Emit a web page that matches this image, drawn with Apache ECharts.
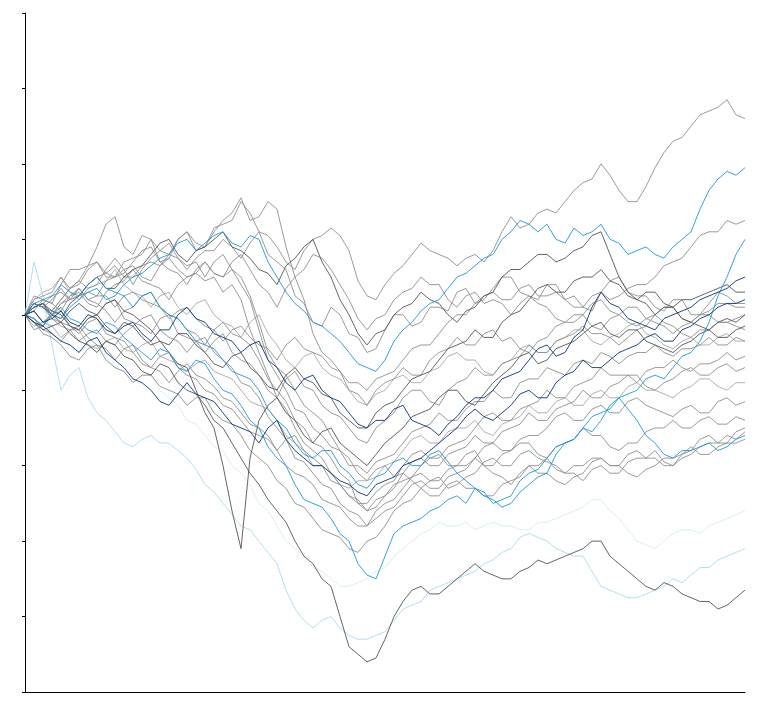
<!DOCTYPE html>
<html>
<head>
<meta charset="utf-8">
<script src="https://cdn.jsdelivr.net/npm/echarts@6/dist/echarts.min.js"></script>
<style>
  html, body { margin: 0; padding: 0; background: #fff; }
  #chart { width: 771px; height: 713px; }
</style>
</head>
<body>
<div id="chart"></div>
<script>
// x positions (sample index along the period)
var steps = [];
for (var k = 0; k <= 80; k++) steps.push(k);

var yTicks = ['0.0', '0.2', '0.4', '0.6', '0.8', '1.0', '1.2', '1.4', '1.6', '1.8'];

// grey paths
var g1 = [1.00,1.05,1.04,1.03,1.08,1.12,1.12,1.13,1.18,1.24,1.26,1.18,1.16,1.21,1.20,1.14,1.15,1.20,1.22,1.17,1.18,1.23,1.24,1.25,1.30,1.27,1.22,1.16,1.14,1.12,1.05,1.03,0.98,0.97,1.02,1.00,0.95,0.94,0.90,0.91,0.96,1.00,1.00,0.97,0.98,1.02,1.02,1.01,1.06,1.07,1.03,1.04,1.07,1.10,1.10,1.06,1.05,1.04,1.08,1.08,1.04,1.05,1.02,1.01,1.06,1.09,1.10,1.06,1.05,1.05,1.02,1.01,1.04,1.04,1.00,1.00,1.03,1.06,1.05,1.03,1.03];
var g3 = [1.00,0.96,0.97,1.00,1.01,0.97,0.96,0.99,1.00,1.03,1.04,0.99,0.98,0.97,0.95,0.99,1.00,0.95,0.94,0.93,0.90,0.93,0.95,0.90,0.88,0.87,0.84,0.80,0.78,0.83,0.85,0.81,0.80,0.76,0.74,0.73,0.70,0.67,0.66,0.70,0.72,0.74,0.78,0.80,0.80,0.77,0.76,0.80,0.82,0.83,0.86,0.84,0.84,0.87,0.88,0.89,0.92,0.90,0.90,0.93,0.94,0.95,0.97,0.95,0.95,0.94,0.92,0.94,0.96,0.97,1.00,0.98,0.97,0.95,0.94,0.96,0.96,0.98,0.98,0.97,0.96];
var g4 = [1.00,1.03,1.02,1.04,1.07,1.04,1.05,1.06,1.05,1.09,1.10,1.11,1.14,1.17,1.18,1.14,1.12,1.11,1.08,1.12,1.14,1.11,1.10,1.12,1.08,1.04,0.96,0.88,0.84,0.80,0.75,0.74,0.70,0.68,0.65,0.64,0.60,0.60,0.58,0.61,0.62,0.63,0.66,0.69,0.70,0.71,0.74,0.72,0.72,0.75,0.77,0.77,0.80,0.78,0.78,0.82,0.83,0.83,0.86,0.85,0.84,0.87,0.88,0.87,0.90,0.89,0.87,0.89,0.90,0.90,0.92,0.90,0.89,0.91,0.91,0.92,0.94,0.92,0.92,0.94,0.93];
var g5 = [1.00,0.99,0.96,0.95,0.93,0.96,0.97,0.94,0.92,0.91,0.88,0.91,0.92,0.88,0.86,0.85,0.82,0.85,0.87,0.84,0.83,0.81,0.78,0.77,0.74,0.71,0.70,0.68,0.64,0.67,0.68,0.64,0.62,0.60,0.56,0.55,0.52,0.50,0.50,0.53,0.55,0.56,0.60,0.63,0.64,0.62,0.62,0.65,0.66,0.67,0.70,0.73,0.74,0.72,0.72,0.75,0.76,0.77,0.80,0.78,0.78,0.81,0.82,0.83,0.86,0.84,0.84,0.84,0.82,0.85,0.86,0.86,0.88,0.86,0.85,0.87,0.87,0.88,0.90,0.88,0.89];
var g6 = [1.00,1.01,1.04,1.03,1.01,1.05,1.07,1.04,1.03,1.01,0.98,1.01,1.02,1.05,1.06,1.02,1.00,0.99,0.96,0.95,0.92,0.96,0.98,0.95,0.94,0.92,0.88,0.83,0.80,0.77,0.72,0.70,0.66,0.65,0.62,0.58,0.56,0.50,0.48,0.51,0.52,0.54,0.58,0.61,0.62,0.60,0.60,0.63,0.64,0.65,0.68,0.66,0.66,0.69,0.70,0.71,0.74,0.72,0.72,0.75,0.76,0.77,0.80,0.78,0.78,0.81,0.82,0.84,0.84,0.81,0.80,0.82,0.83,0.85,0.86,0.84,0.84,0.86,0.87,0.85,0.86];
var g7 = [1.00,0.97,0.98,0.97,0.94,0.96,0.96,0.92,0.91,0.93,0.94,0.91,0.90,0.92,0.93,0.89,0.88,0.87,0.85,0.87,0.88,0.85,0.84,0.83,0.80,0.77,0.76,0.75,0.72,0.68,0.66,0.64,0.60,0.60,0.58,0.55,0.54,0.56,0.56,0.57,0.60,0.61,0.64,0.67,0.68,0.66,0.66,0.69,0.70,0.70,0.72,0.69,0.68,0.71,0.72,0.73,0.76,0.74,0.74,0.77,0.78,0.76,0.76,0.79,0.80,0.78,0.78,0.81,0.82,0.80,0.80,0.79,0.78,0.80,0.81,0.83,0.83,0.81,0.80,0.82,0.82];
var g8 = [1.00,1.02,1.03,0.99,0.98,0.97,0.95,0.98,0.99,0.95,0.94,0.93,0.90,0.87,0.86,0.89,0.90,0.86,0.84,0.83,0.80,0.79,0.76,0.75,0.72,0.69,0.68,0.67,0.64,0.60,0.58,0.57,0.55,0.51,0.50,0.49,0.46,0.44,0.44,0.46,0.48,0.49,0.52,0.55,0.56,0.54,0.54,0.57,0.58,0.59,0.62,0.60,0.60,0.63,0.64,0.66,0.66,0.63,0.62,0.65,0.66,0.67,0.70,0.68,0.68,0.65,0.64,0.66,0.66,0.69,0.70,0.70,0.72,0.70,0.70,0.72,0.73,0.71,0.71,0.73,0.72];
var g9 = [1.00,0.99,0.97,1.01,1.04,1.07,1.09,1.07,1.08,1.12,1.15,1.12,1.13,1.10,1.09,1.13,1.15,1.12,1.10,1.11,1.09,1.10,1.06,1.08,1.04,0.96,0.90,0.84,0.78,0.75,0.70,0.66,0.64,0.62,0.58,0.55,0.52,0.51,0.48,0.49,0.52,0.55,0.56,0.57,0.60,0.62,0.63,0.60,0.60,0.63,0.64,0.60,0.58,0.57,0.55,0.58,0.60,0.60,0.62,0.59,0.58,0.58,0.56,0.59,0.60,0.58,0.58,0.61,0.62,0.62,0.64,0.61,0.60,0.63,0.64,0.67,0.68,0.66,0.66,0.69,0.70];
var g10 = [1.00,1.03,1.02,1.01,1.04,1.07,1.09,1.13,1.14,1.10,1.10,1.12,1.08,1.12,1.15,1.17,1.19,1.15,1.13,1.14,1.10,1.14,1.16,1.12,1.10,1.05,0.98,0.90,0.86,0.84,0.80,0.76,0.74,0.72,0.68,0.64,0.62,0.58,0.56,0.59,0.60,0.57,0.58,0.56,0.54,0.56,0.57,0.54,0.55,0.57,0.58,0.61,0.62,0.60,0.60,0.63,0.64,0.62,0.61,0.60,0.58,0.60,0.60,0.62,0.62,0.60,0.60,0.58,0.57,0.59,0.60,0.62,0.62,0.63,0.65,0.63,0.63,0.65,0.66,0.66,0.67];
var g11 = [1.00,1.04,1.05,1.06,1.10,1.07,1.08,1.12,1.14,1.11,1.10,1.14,1.15,1.16,1.20,1.17,1.16,1.20,1.22,1.19,1.18,1.22,1.25,1.27,1.31,1.25,1.26,1.30,1.28,1.18,1.10,1.04,0.95,0.90,0.88,0.85,0.80,0.79,0.76,0.80,0.82,0.83,0.86,0.84,0.84,0.88,0.90,0.91,0.94,0.92,0.92,0.95,0.96,0.93,0.94,0.91,0.90,0.93,0.94,0.97,0.98,0.98,1.00,0.97,0.96,0.99,1.00,1.02,1.02,0.99,0.98,0.97,0.95,0.97,0.98,1.00,1.00,0.98,0.98,0.99,1.00];
var g12 = [1.00,1.01,0.98,1.00,1.03,1.05,1.06,1.03,1.02,1.06,1.08,1.09,1.12,1.09,1.08,1.07,1.04,1.08,1.10,1.11,1.14,1.11,1.10,1.14,1.16,1.12,1.08,1.06,1.02,1.07,1.10,1.12,1.16,1.15,1.12,1.08,1.04,0.99,0.96,0.99,1.00,1.04,1.06,1.07,1.10,1.08,1.08,1.04,1.02,1.05,1.06,1.03,1.04,1.03,1.00,1.03,1.05,1.03,1.02,0.99,0.98,1.00,1.00,1.03,1.04,1.01,1.00,0.98,0.97,0.99,1.00,1.02,1.02,0.99,0.98,1.00,1.01,1.03,1.03,1.02,1.02];
var g13 = [1.00,0.98,0.95,0.94,0.92,0.89,0.88,0.91,0.92,0.88,0.86,0.85,0.82,0.84,0.84,0.81,0.80,0.79,0.76,0.78,0.78,0.74,0.72,0.71,0.68,0.64,0.62,0.60,0.56,0.54,0.50,0.49,0.46,0.43,0.42,0.41,0.38,0.37,0.40,0.41,0.44,0.48,0.50,0.51,0.54,0.52,0.52,0.55,0.56,0.54,0.54,0.52,0.52,0.55,0.56,0.57,0.60,0.58,0.58,0.56,0.55,0.57,0.58,0.61,0.62,0.60,0.60,0.63,0.64,0.62,0.62,0.60,0.60,0.62,0.63,0.65,0.66,0.66,0.68,0.67,0.69];
var g14 = [1.00,1.03,1.02,0.99,0.97,0.96,0.93,0.95,0.96,0.93,0.92,0.95,0.97,0.99,1.00,0.96,0.94,0.93,0.90,0.93,0.94,0.90,0.88,0.86,0.82,0.81,0.78,0.73,0.70,0.67,0.62,0.61,0.58,0.55,0.54,0.50,0.48,0.47,0.44,0.48,0.50,0.51,0.54,0.57,0.58,0.56,0.56,0.59,0.60,0.60,0.62,0.65,0.66,0.64,0.64,0.67,0.68,0.68,0.70,0.73,0.74,0.72,0.72,0.75,0.76,0.74,0.74,0.77,0.78,0.76,0.75,0.74,0.73,0.75,0.76,0.74,0.74,0.77,0.78,0.76,0.77];
var g16 = [1.00,1.04,1.06,1.07,1.10,1.06,1.04,1.07,1.08,1.09,1.12,1.08,1.06,1.05,1.02,1.05,1.06,1.02,1.00,1.03,1.04,1.00,0.98,0.97,0.94,0.98,1.00,0.95,0.92,0.88,0.86,0.89,0.90,0.86,0.84,0.83,0.80,0.77,0.76,0.79,0.80,0.83,0.84,0.82,0.82,0.85,0.86,0.89,0.90,0.88,0.88,0.85,0.84,0.87,0.88,0.91,0.92,0.90,0.90,0.93,0.94,0.96,0.96,0.93,0.92,0.94,0.95,0.97,0.98,0.95,0.94,0.92,0.91,0.93,0.94,0.92,0.92,0.94,0.95,0.93,0.93];
var top1 = [1.00,1.02,1.03,1.05,1.06,1.04,1.05,1.08,1.10,1.11,1.13,1.10,1.10,1.13,1.14,1.13,1.16,1.15,1.12,1.15,1.17,1.17,1.20,1.18,1.15,1.19,1.22,1.21,1.18,1.14,1.12,1.17,1.20,1.21,1.23,1.21,1.17,1.09,1.05,1.04,1.08,1.11,1.13,1.16,1.19,1.17,1.16,1.15,1.13,1.15,1.16,1.14,1.17,1.22,1.26,1.23,1.24,1.27,1.28,1.27,1.30,1.33,1.35,1.36,1.40,1.37,1.33,1.30,1.30,1.34,1.39,1.43,1.46,1.47,1.50,1.53,1.54,1.55,1.57,1.53,1.52];
var upper3 = [1.00,1.01,0.98,1.00,1.03,1.04,1.07,1.04,1.05,1.05,1.02,1.05,1.06,1.04,1.03,1.02,0.99,1.01,1.02,0.99,0.97,0.96,0.93,0.96,0.97,0.94,0.92,0.91,0.88,0.92,0.94,0.91,0.90,0.89,0.86,0.85,0.82,0.82,0.80,0.83,0.84,0.85,0.88,0.91,0.92,0.92,0.95,0.98,1.00,1.00,1.03,1.05,1.06,1.04,1.04,1.07,1.08,1.05,1.05,1.06,1.04,1.02,1.02,1.05,1.06,1.04,1.05,1.07,1.08,1.08,1.10,1.13,1.14,1.15,1.18,1.21,1.22,1.22,1.25,1.24,1.25];

// dark grey paths
var d2 = [1.00,1.02,1.03,1.00,0.99,1.03,1.05,1.08,1.10,1.07,1.07,1.10,1.12,1.13,1.16,1.19,1.20,1.16,1.14,1.17,1.18,1.20,1.22,1.18,1.17,1.15,1.12,1.11,1.08,1.13,1.15,1.18,1.20,1.14,1.10,1.04,1.00,0.95,0.92,0.95,0.96,1.00,1.02,1.03,1.06,1.04,1.03,1.00,0.98,1.01,1.02,1.05,1.06,1.10,1.12,1.12,1.14,1.16,1.16,1.14,1.15,1.17,1.18,1.21,1.22,1.16,1.10,1.06,1.04,1.03,1.00,1.02,1.02,0.99,0.98,0.97,0.96,0.98,0.99,0.98,1.00];
var d15 = [1.00,1.02,1.03,1.01,1.00,0.97,0.96,0.99,1.00,1.03,1.04,1.01,1.00,0.98,0.96,0.93,0.92,0.95,0.95,0.92,0.90,0.87,0.86,0.89,0.90,0.86,0.84,0.81,0.80,0.84,0.86,0.83,0.82,0.79,0.78,0.74,0.72,0.70,0.70,0.74,0.76,0.77,0.80,0.83,0.84,0.85,0.88,0.91,0.92,0.93,0.96,0.94,0.94,0.98,1.00,1.01,1.04,1.07,1.08,1.06,1.06,1.09,1.10,1.10,1.12,1.09,1.08,1.05,1.04,1.06,1.06,1.03,1.02,1.04,1.04,1.05,1.06,1.07,1.08,1.06,1.06];
var dSpike = [1.00,1.03,1.02,1.00,0.98,1.01,1.03,1.01,1.00,0.97,0.95,0.98,0.97,0.94,0.92,0.93,0.90,0.87,0.86,0.80,0.74,0.70,0.60,0.48,0.38,0.62,0.72,0.76,0.78,0.74,0.72,0.68,0.66,0.69,0.70,0.66,0.64,0.62,0.60,0.63,0.66,0.68,0.70,0.73,0.74,0.75,0.78,0.80,0.80,0.77,0.76,0.79,0.82,0.84,0.86,0.89,0.90,0.87,0.88,0.91,0.92,0.93,0.95,0.97,0.98,0.95,0.94,0.96,0.96,0.93,0.92,0.91,0.90,0.92,0.93,0.95,0.96,0.94,0.94,0.96,0.97];
var dLow = [1.00,0.98,0.96,0.97,0.98,0.95,0.93,0.92,0.90,0.93,0.92,0.89,0.88,0.85,0.84,0.87,0.86,0.82,0.80,0.79,0.76,0.72,0.70,0.66,0.62,0.58,0.55,0.51,0.48,0.45,0.40,0.36,0.34,0.30,0.28,0.20,0.12,0.10,0.08,0.09,0.14,0.20,0.24,0.27,0.28,0.26,0.26,0.28,0.30,0.32,0.34,0.32,0.31,0.30,0.30,0.32,0.33,0.35,0.34,0.35,0.36,0.37,0.38,0.40,0.40,0.36,0.34,0.32,0.30,0.28,0.27,0.29,0.28,0.26,0.25,0.24,0.24,0.22,0.23,0.25,0.27];

// blue paths
var blueHigh = [1.00,1.03,1.02,1.00,0.99,1.02,1.04,1.06,1.07,1.04,1.05,1.08,1.10,1.11,1.13,1.15,1.16,1.19,1.20,1.17,1.19,1.21,1.22,1.19,1.18,1.21,1.20,1.14,1.10,1.06,1.03,1.01,0.98,0.97,0.95,0.93,0.90,0.87,0.86,0.85,0.88,0.93,0.96,0.98,1.01,1.03,1.04,1.07,1.10,1.11,1.13,1.15,1.16,1.20,1.22,1.25,1.24,1.22,1.24,1.20,1.19,1.23,1.21,1.22,1.24,1.20,1.19,1.16,1.17,1.18,1.16,1.15,1.18,1.20,1.22,1.28,1.33,1.36,1.38,1.37,1.39];
var blueDip = [1.00,0.99,0.97,1.00,1.02,0.99,0.98,0.96,0.95,0.98,0.97,0.94,0.92,0.90,0.88,0.91,0.90,0.86,0.85,0.88,0.87,0.83,0.80,0.79,0.76,0.72,0.70,0.65,0.62,0.60,0.55,0.51,0.50,0.49,0.46,0.42,0.40,0.34,0.31,0.30,0.36,0.42,0.44,0.45,0.46,0.48,0.49,0.51,0.52,0.50,0.54,0.52,0.51,0.49,0.50,0.53,0.55,0.57,0.58,0.63,0.66,0.67,0.70,0.69,0.72,0.76,0.78,0.79,0.80,0.83,0.84,0.83,0.86,0.89,0.90,0.93,0.98,1.05,1.10,1.16,1.20];
var blueMid = [1.00,1.03,1.04,1.05,1.08,1.06,1.05,1.08,1.10,1.07,1.06,1.05,1.02,1.05,1.06,1.02,1.00,0.99,0.96,0.93,0.92,0.91,0.88,0.85,0.84,0.83,0.80,0.75,0.72,0.70,0.66,0.63,0.62,0.64,0.64,0.60,0.58,0.55,0.54,0.57,0.58,0.61,0.62,0.60,0.60,0.63,0.64,0.61,0.58,0.56,0.54,0.53,0.50,0.51,0.52,0.56,0.58,0.59,0.62,0.65,0.66,0.67,0.70,0.73,0.74,0.75,0.78,0.75,0.72,0.68,0.66,0.63,0.62,0.64,0.64,0.65,0.66,0.64,0.65,0.67,0.68];
var navyA = [1.00,1.01,0.98,0.99,1.01,0.98,0.97,1.00,0.99,0.96,0.95,0.97,0.98,0.95,0.93,0.96,0.96,1.00,1.02,0.99,0.98,0.95,0.94,0.93,0.90,0.92,0.93,0.88,0.86,0.82,0.80,0.83,0.84,0.80,0.78,0.77,0.74,0.71,0.70,0.72,0.72,0.75,0.76,0.72,0.71,0.70,0.68,0.71,0.73,0.76,0.78,0.78,0.80,0.83,0.84,0.85,0.88,0.91,0.92,0.89,0.90,0.94,0.96,1.02,1.06,1.03,1.02,0.99,0.98,0.97,0.96,0.99,1.00,1.01,1.02,1.04,1.05,1.06,1.07,1.09,1.10];
var navyB = [1.00,0.98,0.97,0.95,0.93,0.92,0.90,0.93,0.94,0.90,0.88,0.86,0.83,0.82,0.80,0.77,0.76,0.79,0.82,0.79,0.78,0.77,0.74,0.71,0.70,0.69,0.66,0.70,0.72,0.67,0.64,0.62,0.60,0.60,0.58,0.56,0.55,0.53,0.52,0.55,0.56,0.57,0.60,0.61,0.62,0.64,0.66,0.68,0.70,0.73,0.75,0.73,0.72,0.74,0.76,0.79,0.80,0.78,0.78,0.82,0.84,0.85,0.88,0.86,0.86,0.88,0.90,0.91,0.92,0.94,0.95,0.93,0.93,0.96,0.97,0.99,1.00,1.02,1.03,1.03,1.04];
var lightA = [1.00,1.14,1.05,0.92,0.80,0.84,0.86,0.78,0.74,0.72,0.69,0.66,0.65,0.67,0.68,0.66,0.66,0.64,0.62,0.59,0.55,0.53,0.50,0.47,0.44,0.43,0.40,0.37,0.34,0.27,0.22,0.19,0.17,0.19,0.20,0.17,0.15,0.14,0.14,0.15,0.16,0.19,0.22,0.23,0.24,0.27,0.28,0.29,0.30,0.31,0.32,0.34,0.35,0.37,0.38,0.41,0.42,0.41,0.40,0.38,0.37,0.36,0.36,0.32,0.28,0.27,0.26,0.25,0.25,0.26,0.27,0.28,0.30,0.29,0.31,0.33,0.33,0.35,0.36,0.37,0.38];
var lightB = [1.00,0.99,0.97,0.97,0.95,0.92,0.90,0.92,0.92,0.89,0.86,0.85,0.82,0.84,0.84,0.80,0.78,0.76,0.72,0.71,0.68,0.65,0.64,0.60,0.58,0.55,0.50,0.48,0.44,0.40,0.38,0.36,0.33,0.32,0.30,0.28,0.28,0.29,0.30,0.32,0.33,0.36,0.38,0.40,0.42,0.43,0.45,0.44,0.44,0.45,0.43,0.44,0.45,0.44,0.44,0.43,0.43,0.45,0.45,0.46,0.47,0.48,0.49,0.51,0.51,0.48,0.46,0.43,0.40,0.39,0.38,0.40,0.42,0.43,0.43,0.42,0.44,0.45,0.46,0.47,0.48];

var GREY = '#8e8e8e', LGREY = '#a8a8a8', DGREY = '#555555';
var BLUE = '#1a9ad6', NAVY = '#0a3570', LBLUE = '#a8dcec', XLBLUE = '#d4edf5';

var lines = [
    [lightB, XLBLUE], [lightA, LBLUE],
    [g16, LGREY], [g7, LGREY],
    [g1, GREY], [g3, GREY], [g4, GREY], [g5, GREY], [g6, GREY], [g8, GREY],
    [g9, GREY], [g10, GREY], [g11, GREY], [g12, GREY], [g13, GREY], [g14, GREY],
    [top1, GREY], [upper3, GREY],
    [d2, DGREY], [d15, DGREY], [dSpike, DGREY], [dLow, DGREY],
    [blueMid, BLUE], [blueDip, BLUE], [blueHigh, BLUE],
    [navyA, NAVY], [navyB, NAVY]
];

var series = lines.map(function (l) {
    return {
        type: 'line',
        data: l[0],
        symbol: 'none',
        lineStyle: { color: l[1], width: 0.9 },
        silent: true
    };
});

var chart = echarts.init(document.getElementById('chart'));
chart.setOption({
    animation: false,
    grid: { left: 25, right: 26, top: 13, bottom: 21 },
    xAxis: {
        type: 'category',
        data: steps,
        boundaryGap: false,
        axisLine: { lineStyle: { color: '#000', width: 1 } },
        axisTick: { show: false },
        axisLabel: { show: false },
        splitLine: { show: false }
    },
    yAxis: {
        type: 'value',
        min: 0,
        max: 1.8,
        interval: 0.2,
        axisLine: { show: true, lineStyle: { color: '#000', width: 1 } },
        axisTick: { show: true, length: 3, lineStyle: { color: '#000' } },
        axisLabel: {
            color: '#ffffff', fontSize: 9, margin: 4,
            formatter: function (v) { return yTicks[Math.round(v / 0.2)]; }
        },
        splitLine: { show: false }
    },
    series: series
});
</script>
</body>
</html>
